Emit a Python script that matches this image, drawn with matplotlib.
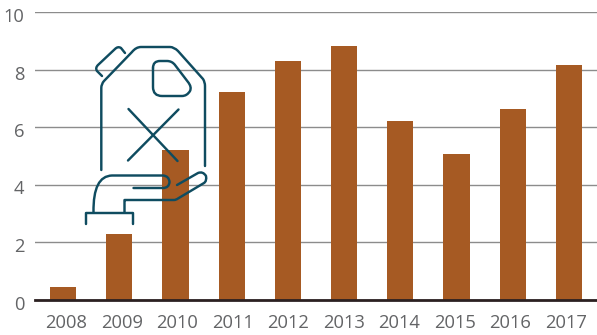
import matplotlib
matplotlib.use("Agg")
import matplotlib.pyplot as plt
from matplotlib.path import Path
from matplotlib.patches import PathPatch
from matplotlib.transforms import ScaledTranslation

years = ['2008', '2009', '2010', '2011', '2012', '2013', '2014', '2015', '2016', '2017']
values = [0.45, 2.27, 5.2, 7.23, 8.28, 8.82, 6.22, 5.05, 6.62, 8.17]
yticks = [0, 2, 4, 6, 8, 10]

W, H = 597, 335
plt.rcParams['font.family'] = ['Open Sans', 'DejaVu Sans']

fig = plt.figure(figsize=(W / 100, H / 100), dpi=100)
ax = fig.add_axes([35 / W, 1 - 299.5 / H, (W - 35) / W, 287.5 / H])

ax.bar(range(len(years)), values, width=0.465, color='#a65a23', zorder=2)
ax.set_xlim(-0.5, 9.5)
ax.set_ylim(0, 10)
ax.set_xticks(range(len(years)))
ax.set_xticklabels(years)
ax.set_yticks(yticks)
ax.tick_params(axis='both', length=0, labelsize=13.2, labelcolor='#636466')
ax.tick_params(axis='x', pad=10.5)
ax.tick_params(axis='y', pad=7.5)
ax.grid(axis='y', color='#8c8c8c', lw=1.0, zorder=1)
ax.set_axisbelow(True)
for s in ['top', 'right', 'left']:
    ax.spines[s].set_visible(False)
ax.spines['bottom'].set_color('#2b2021')
ax.spines['bottom'].set_linewidth(2.0)
ax.spines['bottom'].set_zorder(3)

# labels sit a bit off the ticks in the original
for i, lab in enumerate(ax.get_xticklabels()):
    lab.set_transform(lab.get_transform() + ScaledTranslation((3 - i * 0.67) / 100, 0, fig.dpi_scale_trans))
for lab in ax.get_yticklabels():
    lab.set_transform(lab.get_transform() + ScaledTranslation(0, -3 / 100, fig.dpi_scale_trans))

# icon, drawn in pixel coords of the picture
ov = fig.add_axes([0, 0, 1, 1], facecolor='none')
ov.set_xlim(0, W)
ov.set_ylim(H, 0)
ov.axis('off')

M, L, Q = Path.MOVETO, Path.LINETO, Path.CURVE3


def shape(cmds):
    verts, codes = [], []
    for c in cmds:
        if len(c) == 2:
            verts.append(c)
            codes.append(L if verts[:-1] else M)
        else:
            verts += [(c[0], c[1]), (c[2], c[3])]
            codes += [Q, Q]
    ov.add_patch(PathPatch(Path(verts, codes), fill=False, ec='#0f4c60', lw=1.75,
                           capstyle='round', joinstyle='round', zorder=5))


# body
shape([(101.3, 170), (101.3, 88), (101.3, 84, 104, 81), (132, 52), (136, 47, 141, 47),
       (170, 47), (174, 47, 178, 51), (203, 79), (205, 82, 205, 86), (205, 166)])
# spout
shape([(102, 76), (97, 71), (95, 68, 98, 65), (115, 49), (118, 46, 121, 48), (125, 53)])
# window
shape([(153, 68), (153, 61, 160, 61), (167, 61), (172, 61, 175, 65), (188, 82),
       (192, 87, 190, 91), (187, 96, 182, 96), (162, 96), (153, 96, 153, 87), (153, 68)])
# cross
shape([(128.5, 109), (177.5, 161)])
shape([(178.5, 109.5), (128, 160.5)])
# hand
shape([(86, 224), (86, 213), (132.5, 213), (132.5, 223.5)])
shape([(93.5, 212), (93, 176, 112, 175.5), (163, 175.5), (169, 176, 169.5, 182),
       (169, 188, 163, 188), (133.5, 188)])
shape([(124.5, 212), (124.5, 200), (125, 200, 126, 200), (174, 200), (176, 200, 178, 198.5),
       (204, 183), (207, 181, 206, 176), (203, 171, 198, 173), (177, 185)])

fig.savefig('out.png', dpi=100)
